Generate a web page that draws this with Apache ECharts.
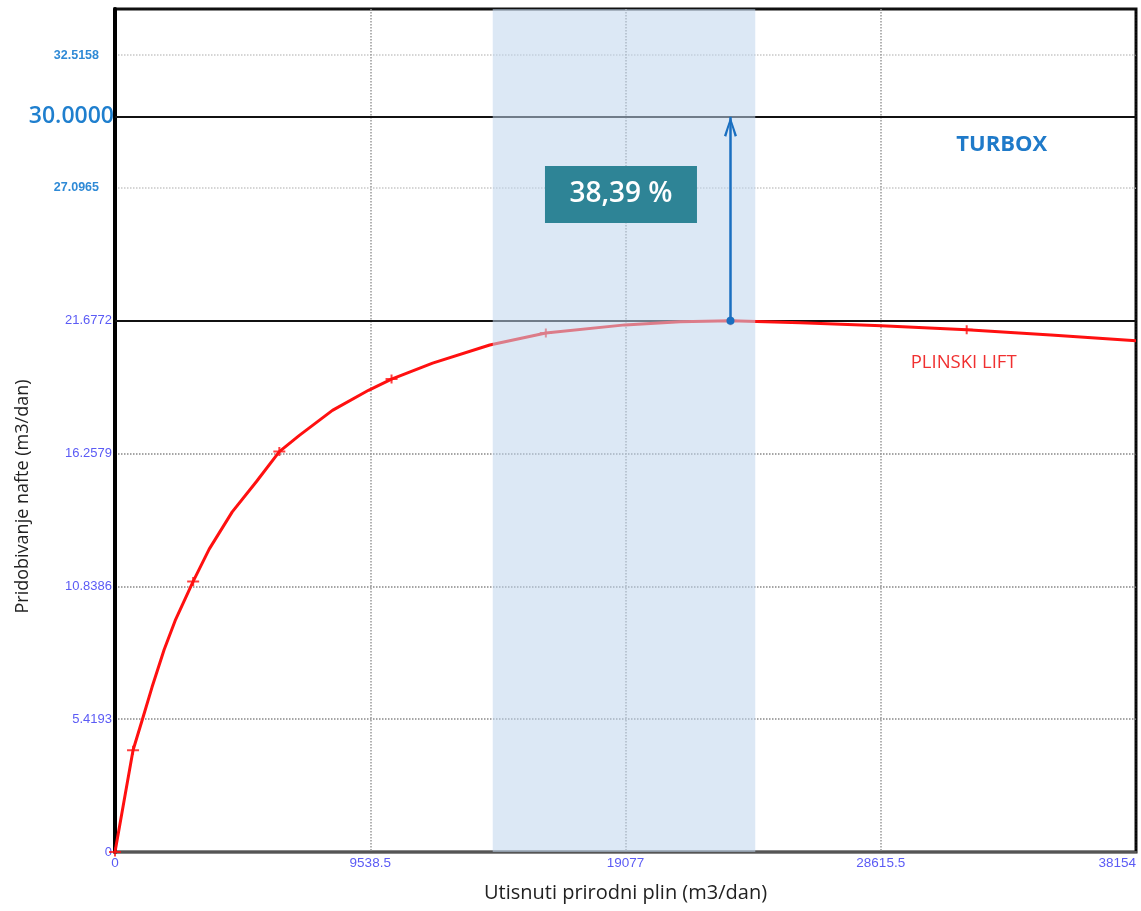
<!DOCTYPE html>
<html>
<head>
<meta charset="utf-8">
<script src="https://cdn.jsdelivr.net/npm/echarts@6/dist/echarts.min.js"></script>
<style>html,body{margin:0;padding:0;background:#fff;}#c{width:1141px;height:911px;}</style>
</head>
<body>
<div id="c"></div>
<script>
// ---- data ----
const xTickLabels = ['0', '9538.5', '19077', '28615.5', '38154'];
const xTickStep = 9538.5;
const xMax = 38154;
const yTickLabels = ['0', '5.4193', '10.8386', '16.2579', '21.6772', '27.0965', '32.5158'];
const yTickStep = 5.4193;
const yMax = 34.4;

// gas-lift curve (line points)
const curveX = [0, 674, 1048, 1385, 1835, 2247, 2921, 3520, 4381, 5280, 6141, 6890, 8125, 9473, 10334, 11869, 14004, 16100, 19058, 21118, 23000, 25611, 28644, 31827, 34972, 38154];
const curveY = [0, 4.15, 5.50, 6.73, 8.25, 9.44, 11.04, 12.36, 13.88, 15.11, 16.34, 17.00, 18.02, 18.84, 19.30, 19.95, 20.69, 21.18, 21.51, 21.64, 21.6772, 21.60, 21.47, 21.31, 21.10, 20.86];
// measured points (cross markers)
const markerX = [0, 674, 2921, 6141, 10334, 16100, 23000, 31827];
const markerY = [0, 4.15, 11.04, 16.34, 19.30, 21.18, 21.6772, 21.31];

const peakX = 23000;
const peakY = 21.6772;
const targetY = 30;
const gainLabel = '38,39 %';
const shadeRange = [14116, 23926];
const boxPos = [18908, 26.83];
const turboxPos = [33137, 28.85];
const liftLabelPos = [31713, 19.95];

const curve = curveX.map((x, i) => [x, curveY[i]]);
const markers = markerX.map((x, i) => [x, markerY[i]]);

const chart = echarts.init(document.getElementById('c'), null, {renderer: 'canvas'});
const crossPath = 'path://M0,3.5H12V5.5H0Z M5,0H7V9H5Z';
// open chevron arrow head
const arrowPath = 'path://M6,0 L12.2,18.8 L10,19.8 L6,5 L2,19.8 L-0.2,18.8 Z';

chart.setOption({
  animation: false,
  backgroundColor: '#fff',
  grid: {left: 115, right: 5, top: 9, bottom: 59, show: true, borderColor: '#111', borderWidth: 3, backgroundColor: 'transparent'},
  xAxis: {
    type: 'value', min: 0, max: xMax, interval: xTickStep,
    name: 'Utisnuti prirodni plin (m3/dan)', nameLocation: 'middle', nameGap: 31,
    nameTextStyle: {fontSize: 20, color: '#222', fontFamily: 'Open Sans'},
    axisLine: {show: true, lineStyle: {color: '#555', width: 2}},
    axisTick: {show: false},
    axisLabel: {
      margin: 4, fontSize: 13.5, color: '#5b5bf5', fontFamily: 'Liberation Sans',
      formatter: (v, i) => xTickLabels[i] || '', alignMaxLabel: 'right'
    },
    splitLine: {show: true, lineStyle: {color: ['#999', '#999', '#999', '#999', '#000'], type: 'dotted', width: 1.5}}
  },
  yAxis: {
    type: 'value', min: 0, max: yMax, interval: yTickStep,
    name: 'Pridobivanje nafte (m3/dan)', nameLocation: 'middle', nameGap: 83, nameRotate: 90,
    nameTextStyle: {fontSize: 18, color: '#222', fontFamily: 'Open Sans', padding: [0, 132, 0, 0]},
    axisLine: {show: true, onZero: false, lineStyle: {color: '#000', width: 4}},
    axisTick: {show: false},
    axisLabel: {
      margin: 3, fontSize: 13, fontFamily: 'Liberation Sans',
      formatter: (v, i) => {
        const t = yTickLabels[i];
        if (!t) return '';
        return i >= 5 ? '{u|' + t + '}' : '{l|' + t + '}';
      },
      rich: {
        u: {color: '#2f8ad6', fontWeight: 'bold', fontSize: 12.5, fontFamily: 'Liberation Sans', padding: [0, 13, 0, 0]},
        l: {color: '#5b5bf5', fontSize: 13, fontFamily: 'Liberation Sans'}
      }
    },
    splitLine: {show: true, lineStyle: {color: ['#888', '#888', '#888', '#888', '#888', '#c8c8c8', '#c8c8c8', '#111'], type: 'dotted', width: 1.5}}
  },
  series: [
    {
      name: 'reference lines', type: 'line', data: [[0, peakY]], showSymbol: false, silent: true, z: 2,
      lineStyle: {width: 0},
      markLine: {
        silent: true, symbol: 'none', animation: false, z: 2,
        lineStyle: {color: '#111', width: 2, type: 'solid'},
        data: [
          {yAxis: peakY, label: {show: false}},
          {yAxis: targetY, label: {show: true, position: 'start', distance: 1, formatter: '30.0000', color: '#1f7fce', fontSize: 23, fontFamily: 'Open Sans', fontWeight: 600}}
        ]
      }
    },
    {
      name: 'PLINSKI LIFT', type: 'line', data: curve, showSymbol: false, z: 3,
      lineStyle: {color: '#ff1010', width: 3}
    },
    {
      name: 'markers', type: 'scatter', data: markers, z: 4,
      symbol: crossPath, symbolSize: [12, 9], itemStyle: {color: '#ff1010'}
    },
    {
      name: 'shade', type: 'line', data: [[shadeRange[0], 0]], showSymbol: false, z: 5, lineStyle: {width: 0},
      markArea: {
        silent: true, z: 5,
        itemStyle: {color: 'rgba(191,213,237,0.55)'},
        data: [[{xAxis: shadeRange[0], yAxis: 0}, {xAxis: shadeRange[1], yAxis: yMax}]]
      }
    },
    {
      name: 'annotations', type: 'line', data: [[peakX, peakY]], showSymbol: false, z: 6, lineStyle: {width: 0},
      markLine: {
        silent: true, animation: false, z: 6,
        symbol: ['circle', 'none'],
        symbolSize: 8,
        lineStyle: {color: '#1a6fc0', width: 2.5, type: 'solid'},
        label: {show: false},
        data: [[{coord: [peakX, peakY]}, {coord: [peakX, targetY]}]]
      },
      markPoint: {
        silent: true, animation: false, z: 7,
        data: [
          {coord: [peakX, targetY], symbol: arrowPath, symbolSize: [13, 20], symbolOffset: [0, 10], itemStyle: {color: '#1a6fc0'}, label: {show: false}},
          {coord: boxPos, symbol: 'rect', symbolSize: [152, 57], itemStyle: {color: '#2e8496'},
           label: {show: true, position: 'inside', formatter: gainLabel, color: '#fff', fontSize: 28, fontWeight: 600, fontFamily: 'Open Sans'}},
          {coord: turboxPos, symbol: 'rect', symbolSize: [1, 1], itemStyle: {color: 'rgba(0,0,0,0)'},
           label: {show: true, position: 'inside', formatter: 'TURBOX', color: '#1f7ac9', fontSize: 22, fontWeight: 'bold', fontFamily: 'Open Sans'}},
          {coord: liftLabelPos, symbol: 'rect', symbolSize: [1, 1], itemStyle: {color: 'rgba(0,0,0,0)'},
           label: {show: true, position: 'inside', formatter: 'PLINSKI LIFT', color: '#f03030', fontSize: 18.5, fontFamily: 'Open Sans'}}
        ]
      }
    }
  ]
});
</script>
</body>
</html>
